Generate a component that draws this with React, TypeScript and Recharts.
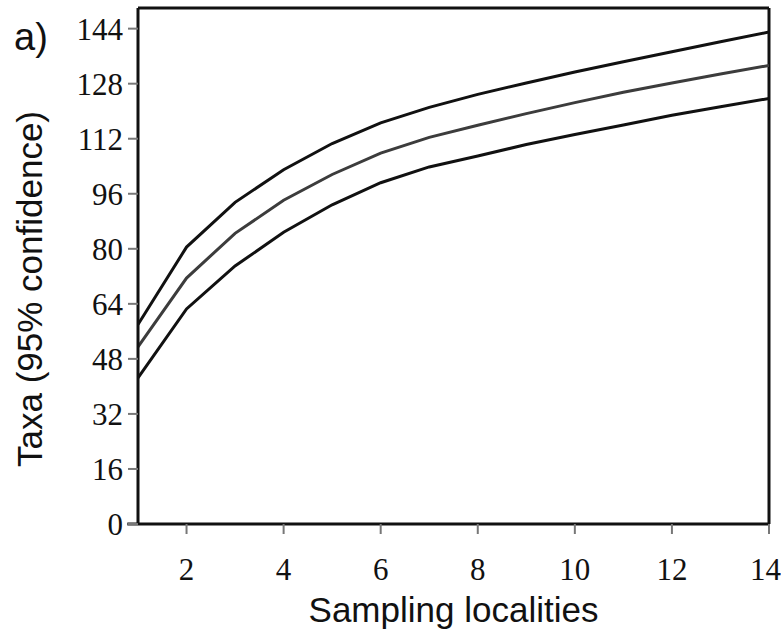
import { LineChart, Line, XAxis, YAxis, ReferenceLine } from "recharts";

const localities = [1, 2, 3, 4, 5, 6, 7, 8, 9, 10, 11, 12, 13, 14];
const upper = [58, 80.5, 93.5, 103, 110.6, 116.6, 121.1, 124.9, 128.2, 131.4, 134.4, 137.3, 140.2, 143];
const middle = [51.5, 71.5, 84.5, 94.1, 101.6, 107.8, 112.4, 115.9, 119.3, 122.5, 125.5, 128.2, 130.8, 133.3];
const lower = [42.5, 62.5, 75, 84.8, 92.8, 99.2, 103.8, 107, 110.3, 113.2, 116, 118.8, 121.3, 123.7];

const xTicks = [2, 4, 6, 8, 10, 12, 14];
const yTicks = [0, 16, 32, 48, 64, 80, 96, 112, 128, 144];

const data = localities.map((x, i) => ({ x, upper: upper[i], middle: middle[i], lower: lower[i] }));

const serif = "'Liberation Serif', 'Times New Roman', serif";
const sans = "'Liberation Sans', Arial, sans-serif";

function YLabel({ viewBox }: any) {
  const cx = viewBox.x + 30;
  const cy = viewBox.y + viewBox.height / 2 + 23;
  return (
    <text x={cx} y={cy} transform={`rotate(-90, ${cx}, ${cy})`} textAnchor="middle" dy="0.35em"
          fontFamily={sans} fontSize={35} fill="#111">
      Taxa (95% confidence)
    </text>
  );
}

export default function App() {
  return (
    <div style={{ position: "absolute", left: 0, top: 0, width: 781, height: 635, background: "#fff" }}>
      <div style={{ position: "absolute", left: 14, top: 19, fontFamily: sans, fontSize: 38, lineHeight: "37px", color: "#111" }}>
        a)
      </div>
      <LineChart width={781} height={635} data={data} margin={{ top: 8, right: 12, left: 0, bottom: 0 }}>
        <XAxis
          dataKey="x"
          type="number"
          domain={[1, 14]}
          ticks={xTicks}
          allowDataOverflow
          height={111}
          axisLine={{ stroke: "#111", strokeWidth: 3 }}
          tickLine={{ stroke: "#777", strokeWidth: 2 }}
          tickSize={10}
          tickMargin={24}
          tick={{ fill: "#111", fontSize: 31, fontFamily: serif }}
          label={{ value: "Sampling localities", position: "insideBottom", offset: 13, fill: "#111", fontSize: 35, fontFamily: sans }}
        />
        <YAxis
          type="number"
          domain={[0, 150]}
          ticks={yTicks}
          allowDataOverflow
          width={138}
          axisLine={{ stroke: "#111", strokeWidth: 3 }}
          tickLine={{ stroke: "#777", strokeWidth: 2 }}
          tickSize={10}
          tickMargin={5}
          tick={{ fill: "#111", fontSize: 31, fontFamily: serif }}
          label={<YLabel />}
        />
        <ReferenceLine y={150} stroke="#111" strokeWidth={3} />
        <ReferenceLine x={14} stroke="#111" strokeWidth={3} />
        <ReferenceLine
          segment={[{ x: 0.78, y: 0 }, { x: 1, y: 0 }]}
          stroke="#111"
          strokeWidth={3}
          ifOverflow="visible"
        />
        <Line type="linear" dataKey="upper" stroke="#111" strokeWidth={3} dot={false} isAnimationActive={false} />
        <Line type="linear" dataKey="middle" stroke="#3c3c3c" strokeWidth={3} dot={false} isAnimationActive={false} />
        <Line type="linear" dataKey="lower" stroke="#111" strokeWidth={3} dot={false} isAnimationActive={false} />
      </LineChart>
    </div>
  );
}
